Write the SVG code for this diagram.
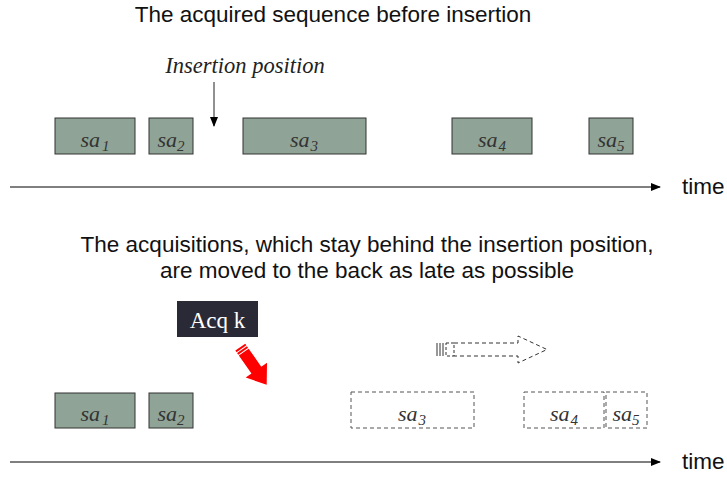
<svg xmlns="http://www.w3.org/2000/svg" width="727" height="477" viewBox="0 0 727 477">
<style>
.sa{fill:#8fa396;stroke:#333;stroke-width:1}
.dash{fill:none;stroke:#555;stroke-width:1;stroke-dasharray:4,3}
.lab{font-family:"Liberation Serif",serif;font-style:italic;font-size:22px;fill:#333;text-anchor:middle}
.sub{font-size:15px}
.title{font-family:"Liberation Sans",Arial,sans-serif;font-size:22.5px;fill:#111;text-anchor:middle}
.time{font-family:"Liberation Sans",Arial,sans-serif;font-size:22.5px;fill:#111}
.axis{stroke:#000;stroke-width:1}
</style>
<defs>
<marker id="ah" markerWidth="10" markerHeight="8" refX="9" refY="4" orient="auto" markerUnits="userSpaceOnUse">
<path d="M0,0 L10,4 L0,8 Z" fill="#000"/>
</marker>
</defs>
<rect width="727" height="477" fill="#fff"/>
<text class="title" x="333" y="22">The acquired sequence before insertion</text>
<text x="245" y="73" font-family="Liberation Serif,serif" font-style="italic" font-size="22.5" fill="#222" text-anchor="middle">Insertion position</text>
<g id="connectors">
<line class="axis" x1="10" y1="187" x2="660" y2="187" marker-end="url(#ah)"/>
<line class="axis" x1="10" y1="462" x2="660" y2="462" marker-end="url(#ah)"/>
<line x1="214" y1="82" x2="214" y2="126" stroke="#222" stroke-width="1" marker-end="url(#ah)"/>
</g>
<text class="time" x="682" y="194">time</text>
<text class="time" x="682" y="469">time</text>
<g id="top-sa1"><rect class="sa" x="55" y="118" width="80" height="36"/><text class="lab" x="95" y="147">sa<tspan class="sub" dx="2" dy="4">1</tspan></text></g>
<g id="top-sa2"><rect class="sa" x="149" y="118" width="44" height="36"/><text class="lab" x="171" y="147">sa<tspan class="sub" dx="0" dy="4">2</tspan></text></g>
<g id="top-sa3"><rect class="sa" x="243" y="118" width="123" height="36"/><text class="lab" x="304" y="147">sa<tspan class="sub" dx="1" dy="4">3</tspan></text></g>
<g id="top-sa4"><rect class="sa" x="452" y="118" width="80" height="36"/><text class="lab" x="492" y="147">sa<tspan class="sub" dx="1" dy="4">4</tspan></text></g>
<g id="top-sa5"><rect class="sa" x="589" y="118" width="44" height="36"/><text class="lab" x="611" y="147">sa<tspan class="sub" dx="0" dy="4">5</tspan></text></g>
<text class="title" x="367" y="252">The acquisitions, which stay behind the insertion position,</text>
<text class="title" x="367" y="278">are moved to the back as late as possible</text>
<g id="acqk"><rect x="177" y="301" width="81" height="36" fill="#2a2a36"/><text x="217.5" y="328" font-family="Liberation Serif,serif" font-size="23" fill="#fff" text-anchor="middle">Acq k</text></g>
<g id="red-arrow" transform="translate(253.5,366) rotate(55)">
<rect x="-23" y="-6" width="2" height="12" fill="#f00"/>
<rect x="-20" y="-6" width="2" height="12" fill="#f00"/>
<path d="M-17,-6 L5,-6 L5,-13 L23,0 L5,13 L5,6 L-17,6 Z" fill="#f00"/>
</g>
<g id="dashed-arrow" fill="none" stroke="#333" stroke-width="1">
<line x1="437" y1="343" x2="437" y2="356"/>
<line x1="440" y1="343" x2="440" y2="356"/>
<line x1="443" y1="343" x2="443" y2="356"/>
<rect x="446" y="343" width="8" height="13" stroke-dasharray="3,2"/>
<path d="M454,343 L518,343 L518,336 L547,349.5 L518,363 L518,356 L454,356" stroke-dasharray="4,3"/>
</g>
<g id="bot-sa1"><rect class="sa" x="55" y="393" width="80" height="35"/><text class="lab" x="95" y="421">sa<tspan class="sub" dx="2" dy="4">1</tspan></text></g>
<g id="bot-sa2"><rect class="sa" x="149" y="393" width="44" height="35"/><text class="lab" x="171" y="421">sa<tspan class="sub" dx="0" dy="4">2</tspan></text></g>
<g id="bot-sa3"><rect class="dash" x="351" y="392" width="123" height="36"/><text class="lab" x="412" y="421">sa<tspan class="sub" dx="1" dy="4">3</tspan></text></g>
<g id="bot-sa4"><rect class="dash" x="524" y="392" width="80" height="36"/><text class="lab" x="564" y="421">sa<tspan class="sub" dx="1" dy="4">4</tspan></text></g>
<g id="bot-sa5"><rect class="dash" x="606" y="392" width="41" height="36"/><text class="lab" x="626" y="421">sa<tspan class="sub" dx="0" dy="4">5</tspan></text></g>
</svg>
